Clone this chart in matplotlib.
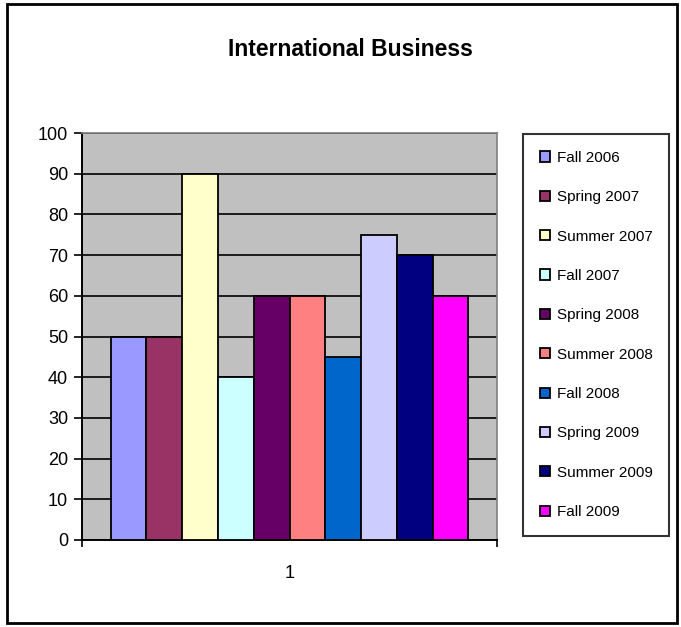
import numpy as np
import matplotlib.pyplot as plt
from matplotlib.patches import Rectangle

series = ["Fall 2006", "Spring 2007", "Summer 2007", "Fall 2007", "Spring 2008",
          "Summer 2008", "Fall 2008", "Spring 2009", "Summer 2009", "Fall 2009"]
values = [50, 50, 90, 40, 60, 60, 45, 75, 70, 60]
colors = ["#9999FF", "#993366", "#FFFFCC", "#CCFFFF", "#660066",
          "#FF8080", "#0066CC", "#CCCCFF", "#000080", "#FF00FF"]
category = "1"

plt.rcParams['font.family'] = ['Liberation Sans', 'DejaVu Sans']

fig = plt.figure(figsize=(6.81, 6.27), dpi=100)
ax = fig.add_axes([82 / 681, 1 - 540 / 627, 415 / 681, 407 / 627])
ax.set_facecolor("#C0C0C0")

# bars sit next to each other, gap on both sides of the group
x = np.arange(len(values))
for i in range(len(values)):
    ax.bar(x[i], values[i], width=1.0, color=colors[i], edgecolor="black",
           linewidth=1.3, label=series[i], zorder=3)

m = 0.8
ax.set_xlim(-0.5 - m, len(values) - 0.5 + m)
ax.set_ylim(0, 100)
ax.set_yticks(range(0, 101, 10))
ax.yaxis.grid(True, color="black", linewidth=1.2, zorder=1)
ax.set_axisbelow(True)
ax.tick_params(axis="y", direction="out", length=6, width=1.2, labelsize=13, pad=4)

ax.set_xticks([-0.5 - m, len(values) - 0.5 + m])
ax.set_xticklabels(["", ""])
ax.tick_params(axis="x", direction="out", length=5, width=1.2)
ax.text((len(values) - 1) / 2, -8.2, category, ha="center", va="center", fontsize=13)

for s in ["top", "right"]:
    ax.spines[s].set_color("#808080")
    ax.spines[s].set_linewidth(1.2)
for s in ["left", "bottom"]:
    ax.spines[s].set_color("black")
    ax.spines[s].set_linewidth(1.4)

fig.text(350 / 681, 1 - 50 / 627, "International Business", ha="center", va="center",
         fontsize=16.5, fontweight="bold")

leg = fig.legend(loc="upper left", bbox_to_anchor=(523 / 681, 1 - 134 / 627),
                 frameon=True, fancybox=False, edgecolor="black", fontsize=11,
                 handlelength=0.65, handleheight=0.65, handletextpad=0.45,
                 labelspacing=1.66, borderpad=1.1, borderaxespad=0)
leg.get_frame().set_linewidth(1.5)

# outer chart border
fig.patches.append(Rectangle((7 / 681, 4 / 627), 670 / 681, 619 / 627,
                             transform=fig.transFigure, fill=False,
                             edgecolor="black", linewidth=2))

fig.savefig("out.png", dpi=100)
